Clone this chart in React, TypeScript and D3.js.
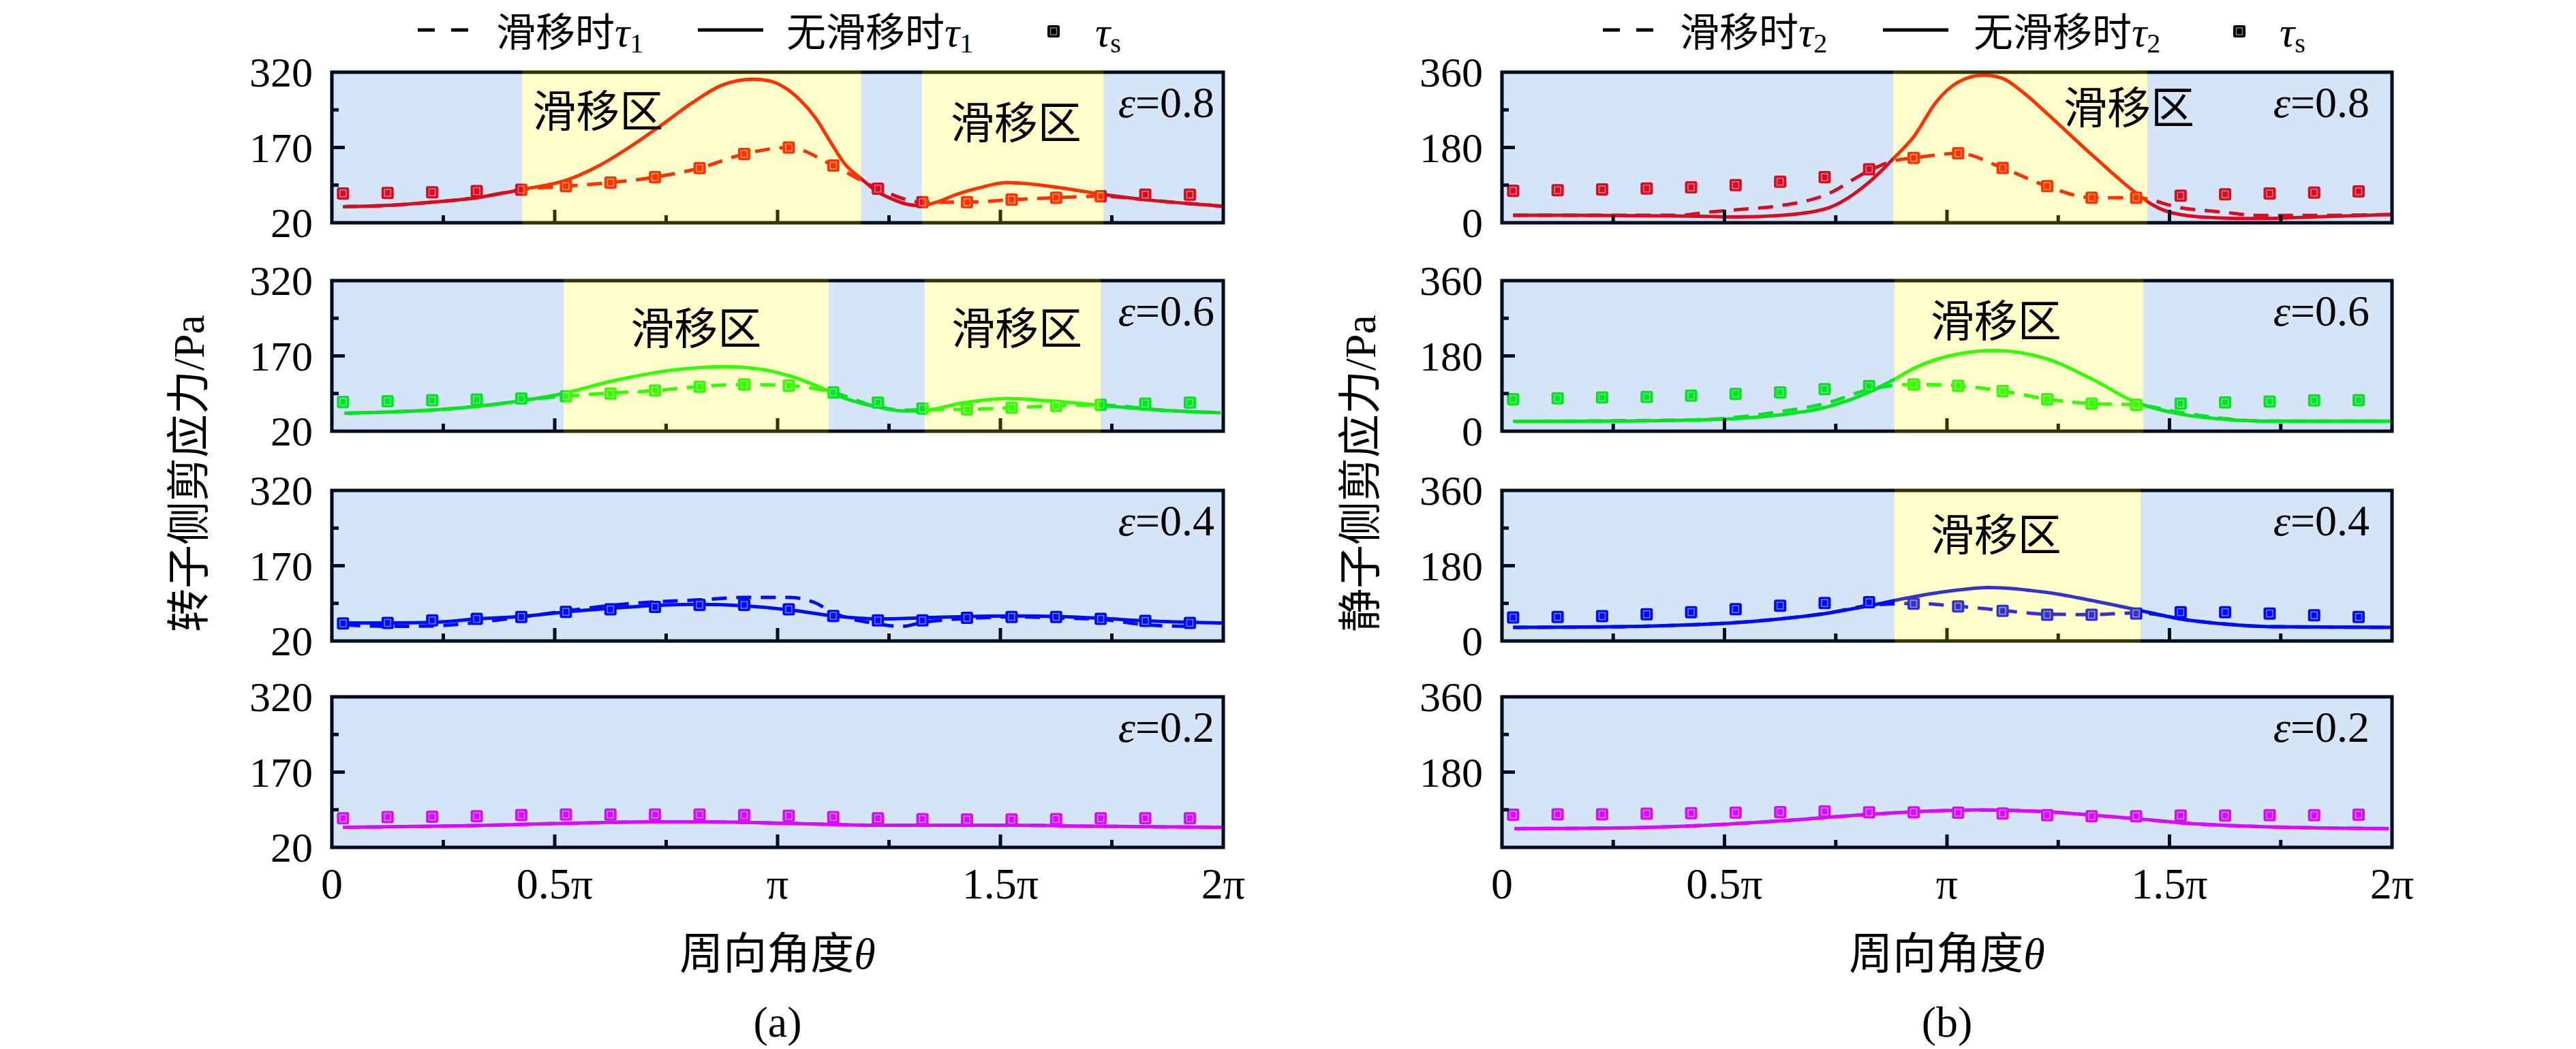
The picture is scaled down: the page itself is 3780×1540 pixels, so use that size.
import * as d3 from "d3";

// circumferential positions of the τs squares, in units of π
const THETA_S = [0.025, 0.125, 0.225, 0.325, 0.425, 0.525, 0.625, 0.725, 0.825, 0.925,
  1.025, 1.125, 1.225, 1.325, 1.425, 1.525, 1.625, 1.725, 1.825, 1.925];

const EPS = ["0.8", "0.6", "0.4", "0.2"];

// (a) rotor side, [θ/π, Pa]
const A08_TS = [78.5, 79.4, 80.7, 83, 86, 93, 100, 111, 129, 157, 170, 134, 88, 61, 61, 66, 70, 73, 76, 76];
const A08_SOLID = [[0.025, 52], [0.125, 54.5], [0.225, 61], [0.325, 70], [0.425, 86], [0.53, 106], [0.6, 134],
  [0.67, 172], [0.74, 215], [0.81, 260], [0.875, 294], [0.945, 306], [0.98, 303], [1.015, 290], [1.05, 265],
  [1.085, 229], [1.12, 179], [1.15, 138], [1.19, 106], [1.22, 84], [1.255, 68], [1.29, 57], [1.32, 54],
  [1.36, 62], [1.4, 76], [1.45, 89], [1.515, 100], [1.58, 96], [1.625, 91], [1.725, 77], [1.825, 66],
  [1.925, 58], [2, 53]];
const A08_DASH = [[0.025, 52], [0.125, 54.5], [0.225, 61], [0.325, 70], [0.425, 86], [0.525, 93], [0.625, 100],
  [0.725, 111], [0.825, 129], [0.925, 157], [1.025, 170], [1.125, 134], [1.225, 88], [1.325, 61], [1.425, 61],
  [1.525, 66], [1.625, 70], [1.725, 73], [1.825, 66], [1.925, 58], [2, 53]];
const A08_SLIP = [[0.427, 1.187], [1.324, 1.731]];

const A06_TS = [78.5, 79.8, 81.6, 83, 85, 89.7, 95, 101, 108.7, 113.3, 111, 97.5, 77, 65, 63.5, 67, 70.7, 72.6, 75, 77];
const A06_SOLID = [[0.028, 56], [0.12, 58], [0.248, 63.5], [0.378, 75], [0.507, 93], [0.636, 121.5], [0.766, 142],
  [0.882, 148.6], [0.959, 144], [1.024, 131], [1.089, 110], [1.153, 85], [1.219, 69], [1.283, 60.5],
  [1.321, 60.5], [1.413, 76], [1.516, 85], [1.606, 80.7], [1.723, 71.7], [1.865, 61.8], [1.994, 56.7]];
const A06_DASH = [[0.028, 56], [0.12, 58], [0.248, 63.5], [0.378, 75], [0.43, 82], [0.525, 90], [0.625, 96],
  [0.725, 101], [0.825, 109], [0.925, 113], [1.025, 111], [1.125, 97], [1.219, 70], [1.283, 62], [1.325, 63],
  [1.425, 63.5], [1.525, 67], [1.625, 70.7], [1.725, 72], [1.865, 61.8], [1.994, 56.7]];
const A06_SLIP = [[0.52, 1.115], [1.33, 1.725]];

const A04_TS = [55, 56, 61, 64, 68, 78, 83, 88, 92, 92, 83, 70, 61, 61, 66, 68, 68, 64, 60, 56];
const A04_SOLID = [[0.03, 56], [0.126, 56], [0.226, 57], [0.327, 64], [0.427, 69], [0.527, 78], [0.626, 85],
  [0.726, 91], [0.827, 93], [0.927, 90], [1.026, 82], [1.126, 70], [1.226, 64], [1.326, 66], [1.427, 69],
  [1.527, 70], [1.627, 69], [1.727, 65], [1.828, 60], [1.997, 56]];
const A04_DASH = [[0.03, 52], [0.126, 49], [0.226, 50], [0.327, 57], [0.427, 68], [0.527, 80], [0.626, 91],
  [0.726, 98], [0.827, 102], [0.927, 107], [1.026, 107], [1.082, 97], [1.126, 76], [1.226, 54], [1.277, 49],
  [1.326, 57], [1.427, 65], [1.527, 68], [1.627, 66], [1.727, 63], [1.828, 52], [1.927, 49]];

const A02_TS = [78, 80.5, 81, 82, 84.5, 85.6, 85.6, 85.6, 85.6, 84.5, 83, 80.5, 78, 76.5, 75.5, 75.5, 76.5, 78, 78, 78];
const A02_SOLID = [[0.025, 60], [0.3, 63], [0.525, 68], [0.725, 71], [0.825, 71], [1.025, 68], [1.225, 64],
  [1.525, 64], [1.725, 62], [2, 60]];

// (b) stator side
const B08_TS = [76.6, 77.7, 80, 82, 84.7, 90, 98, 109, 128, 155, 166, 131, 87.5, 60, 60, 64.6, 68, 70, 72, 75];
const B08_SOLID = [[0.025, 18], [0.225, 17.6], [0.425, 16], [0.525, 14], [0.626, 17.6], [0.726, 33], [0.826, 98],
  [0.879, 153], [0.926, 207], [0.975, 288], [1.026, 337], [1.082, 353], [1.125, 345], [1.166, 316],
  [1.225, 261], [1.325, 163], [1.425, 71], [1.46, 44], [1.524, 19.5], [1.624, 11], [1.696, 10], [1.824, 14],
  [1.998, 19.5]];
const B08_DASH = [[0.025, 18], [0.225, 18], [0.4, 18], [0.46, 25], [0.525, 31], [0.626, 41], [0.726, 66],
  [0.826, 125], [0.879, 148], [0.926, 155], [1.026, 166], [1.125, 131], [1.225, 87.5], [1.325, 60],
  [1.425, 60], [1.524, 36], [1.624, 25], [1.696, 17.6], [1.824, 17.6], [1.998, 19.5]];
const B08_SLIP = [[0.879, 1.45]];

const B06_TS = [76.7, 78.5, 80.5, 81.8, 85, 89, 93, 100.5, 108, 112, 108.6, 96, 76.7, 66, 63, 66, 69, 71, 73.6, 74];
const B06_SOLID = [[0.025, 23.5], [0.225, 24], [0.425, 26.6], [0.525, 30], [0.626, 39], [0.726, 56.7],
  [0.826, 94], [0.879, 122.5], [0.926, 150.7], [1.026, 185], [1.107, 193], [1.225, 172.7], [1.325, 125],
  [1.425, 69], [1.524, 41], [1.624, 28.5], [1.724, 24], [1.998, 24]];
const B06_DASH = [[0.025, 23.5], [0.425, 27], [0.525, 33], [0.626, 47], [0.726, 66], [0.826, 100], [0.926, 112],
  [1.026, 108.6], [1.125, 96], [1.225, 76.7], [1.325, 66], [1.425, 63], [1.524, 45], [1.624, 30],
  [1.724, 24], [1.998, 24]];
const B06_SLIP = [[0.882, 1.441]];

const B04_TS = [56, 57.5, 59.5, 64, 69, 76, 84.5, 90.7, 92.7, 89, 82.6, 72, 62.7, 62.7, 65.7, 69, 69, 65.7, 61.4, 57.5];
const B04_SOLID = [[0.025, 32.6], [0.225, 33.6], [0.425, 38.8], [0.525, 43.8], [0.626, 53], [0.726, 65.7],
  [0.826, 84.5], [0.926, 106], [1.026, 122], [1.092, 128], [1.225, 116], [1.325, 97], [1.425, 75],
  [1.524, 53], [1.624, 40.7], [1.724, 34.4], [1.998, 32.6]];
const B04_DASH = [[0.025, 32.6], [0.225, 33.6], [0.425, 38.8], [0.525, 43.8], [0.626, 53], [0.726, 65.7],
  [0.826, 85], [0.926, 90], [1.026, 83], [1.125, 73], [1.225, 64], [1.325, 63], [1.425, 67], [1.48, 62],
  [1.524, 53], [1.624, 40.7], [1.724, 34.4], [1.998, 32.6]];
const B04_SLIP = [[0.882, 1.435]];

const B02_TS = [78, 79, 79, 80.8, 82, 83, 84.5, 86, 84, 84, 83, 81, 77, 74.6, 74.6, 76, 76, 77, 77, 78];
const B02_SOLID = [[0.028, 45], [0.227, 46], [0.426, 51.5], [0.627, 63.5], [0.826, 79], [0.927, 85], [1.07, 89.4],
  [1.227, 85], [1.326, 77], [1.426, 68.6], [1.527, 58.6], [1.726, 49], [1.993, 45]];

const X_TICKS = [0, 0.5, 1, 1.5, 2];
const X_TICK_LABELS = ["0", "0.5π", "π", "1.5π", "2π"];
const X_MINOR = [0.25, 0.75, 1.25, 1.75];

const COLORS = ["#ff0000", "#00ff00", "#0000ff", "#ff00ff"];

const SERIF = "'Liberation Serif', 'Times New Roman', serif";
const MIXED = "'Liberation Serif', 'Noto Sans CJK SC', serif";
const CJK = "'Noto Sans CJK SC', sans-serif";

const ROW_TOP = [106, 412, 720, 1023];
const PH = 221;
const LEG_Y = 44; // legend symbol centre line
const LEG_BASE = 68; // legend text baseline

const COLUMNS = [
  {
    x0: 487, x1: 1795, yDomain: [20, 320], yTicks: [20, 170, 320], yMinor: [95, 245],
    epsRight: 13, yTitle: "转子侧剪应力/Pa", yTitleX: 277, sub: "1", tag: "(a)",
    legendX: [613, 728, 1024, 1154, 1546, 1607],
    panels: [
      { ts: A08_TS, solid: A08_SOLID, dash: A08_DASH, slip: A08_SLIP, labels: [[0.45, 52], [1.388, 69]] },
      { ts: A06_TS, solid: A06_SOLID, dash: A06_DASH, slip: A06_SLIP, labels: [[0.67, 65], [1.39, 65]] },
      { ts: A04_TS, solid: A04_SOLID, dash: A04_DASH, slip: [], labels: [] },
      { ts: A02_TS, solid: A02_SOLID, dash: A02_SOLID, slip: [], labels: [] },
    ],
  },
  {
    x0: 2204, x1: 3510, yDomain: [0, 360], yTicks: [0, 180, 360], yMinor: [90, 270],
    epsRight: 33, yTitle: "静子侧剪应力/Pa", yTitleX: 1996, sub: "2", tag: "(b)",
    legendX: [2352, 2465, 2763, 2896, 3286, 3345],
    panels: [
      { ts: B08_TS, solid: B08_SOLID, dash: B08_DASH, slip: B08_SLIP, labels: [[1.262, 47]] },
      { ts: B06_TS, solid: B06_SOLID, dash: B06_DASH, slip: B06_SLIP, labels: [[0.963, 54]] },
      { ts: B04_TS, solid: B04_SOLID, dash: B04_DASH, slip: B04_SLIP, labels: [[0.963, 60]] },
      { ts: B02_TS, solid: B02_SOLID, dash: B02_SOLID, slip: [], labels: [] },
    ],
  },
];

function segments(slip: number[][]) {
  const out: { a: number; b: number; yellow: boolean }[] = [];
  let cur = 0;
  slip.forEach(([s, e]) => {
    if (s > cur) out.push({ a: cur, b: s, yellow: false });
    out.push({ a: s, b: e, yellow: true });
    cur = e;
  });
  if (cur < 2) out.push({ a: cur, b: 2, yellow: false });
  return out;
}

function Marker({ cx, cy, fill }: { cx: number; cy: number; fill: string }) {
  return (
    <g>
      <rect x={cx - 9} y={cy - 9} width={18} height={18} rx={3} fill={fill} />
      <rect x={cx - 4.5} y={cy - 5} width={9} height={10} fill="none"
        stroke="rgba(255,255,255,0.55)" strokeWidth={1.4} />
    </g>
  );
}

function Column({ col }: { col: any }) {
  const x = d3.scaleLinear().domain([0, 2]).range([col.x0, col.x1]);
  const midX = (col.x0 + col.x1) / 2;
  const [lx0, lt1, lx1, lt2, lsq, lt3] = col.legendX;
  return (
    <g>
      {/* legend */}
      <g fontSize={58}>
        <line x1={lx0} x2={lx0 + 25} y1={LEG_Y} y2={LEG_Y} stroke="#000" strokeWidth={5} />
        <line x1={lx0 + 49} x2={lx0 + 74} y1={LEG_Y} y2={LEG_Y} stroke="#000" strokeWidth={5} />
        <text x={lt1} y={LEG_BASE} fontFamily={MIXED}>
          <tspan fontFamily={CJK}>滑移时</tspan>
          <tspan fontFamily={SERIF} fontStyle="italic" fontSize={62}>τ</tspan>
          <tspan fontFamily={SERIF} fontSize={40} dy={9}>{col.sub}</tspan>
        </text>
        <line x1={lx1} x2={lx1 + 96} y1={LEG_Y} y2={LEG_Y} stroke="#000" strokeWidth={5} />
        <text x={lt2} y={LEG_BASE} fontFamily={MIXED}>
          <tspan fontFamily={CJK}>无滑移时</tspan>
          <tspan fontFamily={SERIF} fontStyle="italic" fontSize={62}>τ</tspan>
          <tspan fontFamily={SERIF} fontSize={40} dy={9}>{col.sub}</tspan>
        </text>
        <Marker cx={lsq} cy={LEG_Y + 2} fill="#000" />
        <text x={lt3} y={LEG_BASE} fontFamily={SERIF}>
          <tspan fontStyle="italic" fontSize={62}>τ</tspan>
          <tspan fontSize={40} dy={9}>s</tspan>
        </text>
      </g>

      {col.panels.map((p: any, i: number) => {
        const top = ROW_TOP[i];
        const bottom = top + PH;
        const y = d3.scaleLinear().domain(col.yDomain).range([bottom, top]);
        const line = d3.line<number[]>().x((d) => x(d[0])).y((d) => y(d[1])).curve(d3.curveMonotoneX);
        const color = COLORS[i];
        const yLabels = i === 3 && col.yDomain[0] === 0 ? col.yTicks.slice(1) : col.yTicks;
        return (
          <g key={i}>
            <rect x={col.x0} y={top} width={col.x1 - col.x0} height={PH} fill="#fff" />
            <path d={line(p.solid) || ""} fill="none" stroke={color} strokeWidth={5} />
            <path d={line(p.dash) || ""} fill="none" stroke={color} strokeWidth={5} strokeDasharray="22 14" />
            {p.ts.map((v: number, k: number) => (
              <Marker key={k} cx={x(THETA_S[k])} cy={y(v)} fill={color} />
            ))}
            {/* frame and ticks */}
            <rect x={col.x0} y={top} width={col.x1 - col.x0} height={PH} fill="none" stroke="#000" strokeWidth={5} />
            {X_TICKS.slice(1, -1).map((t) => (
              <line key={"xt" + t} x1={x(t)} x2={x(t)} y1={bottom} y2={bottom - 19} stroke="#000" strokeWidth={5} />
            ))}
            {X_MINOR.map((t) => (
              <line key={"xm" + t} x1={x(t)} x2={x(t)} y1={bottom} y2={bottom - 11} stroke="#000" strokeWidth={5} />
            ))}
            <line x1={col.x0} x2={col.x0 + 19} y1={y(col.yTicks[1])} y2={y(col.yTicks[1])} stroke="#000" strokeWidth={5} />
            {col.yMinor.map((t: number) => (
              <line key={"ym" + t} x1={col.x0} x2={col.x0 + 10} y1={y(t)} y2={y(t)} stroke="#000" strokeWidth={5} />
            ))}
            {/* translucent zone overlays */}
            {segments(p.slip).map((s, k) => {
              const xa = s.a === 0 ? col.x0 - 2.5 : x(s.a);
              const xb = s.b === 2 ? col.x1 + 2.5 : x(s.b);
              return (
                <rect key={"ov" + k} x={xa} y={top - 2.5} width={xb - xa} height={PH + 5}
                  fill={s.yellow ? "rgb(255,255,0)" : "rgb(0,87,206)"}
                  fillOpacity={s.yellow ? 0.2 : 0.16} />
              );
            })}
            {p.labels.map(([t, dy]: number[], k: number) => (
              <text key={"lb" + k} x={x(t)} y={top + dy} fontFamily={CJK} fontSize={64}
                dominantBaseline="central">滑移区</text>
            ))}
            <text x={col.x1 - col.epsRight} y={top + 66} textAnchor="end" fontFamily={SERIF} fontSize={64}>
              <tspan fontStyle="italic">ε</tspan>={EPS[i]}
            </text>
            {yLabels.map((t: number) => (
              <text key={"yl" + t} x={col.x0 - 28} y={y(t) + 21} textAnchor="end" fontFamily={SERIF} fontSize={62}>
                {t}
              </text>
            ))}
          </g>
        );
      })}

      {X_TICKS.map((t, k) => (
        <text key={"xl" + t} x={x(t)} y={1319} textAnchor="middle" fontFamily={SERIF} fontSize={64}>
          {X_TICK_LABELS[k]}
        </text>
      ))}
      <text x={midX} y={1422} textAnchor="middle" fontSize={64} fontFamily={MIXED}>
        <tspan fontFamily={CJK}>周向角度</tspan>
        <tspan fontFamily={SERIF} fontStyle="italic">θ</tspan>
      </text>
      <text x={midX} y={1522} textAnchor="middle" fontSize={64} fontFamily={SERIF}>{col.tag}</text>
      <text transform={`translate(${col.yTitleX},695) rotate(-90)`} textAnchor="middle"
        dominantBaseline="central" fontSize={64} fontFamily={MIXED}>
        {col.yTitle}
      </text>
    </g>
  );
}

export default function App() {
  return (
    <svg width={3780} height={1540} viewBox="0 0 3780 1540"
      style={{ position: "absolute", left: 0, top: 0, background: "#fff" }}>
      <rect width={3780} height={1540} fill="#fff" />
      {COLUMNS.map((c, i) => (
        <Column key={i} col={c} />
      ))}
    </svg>
  );
}
